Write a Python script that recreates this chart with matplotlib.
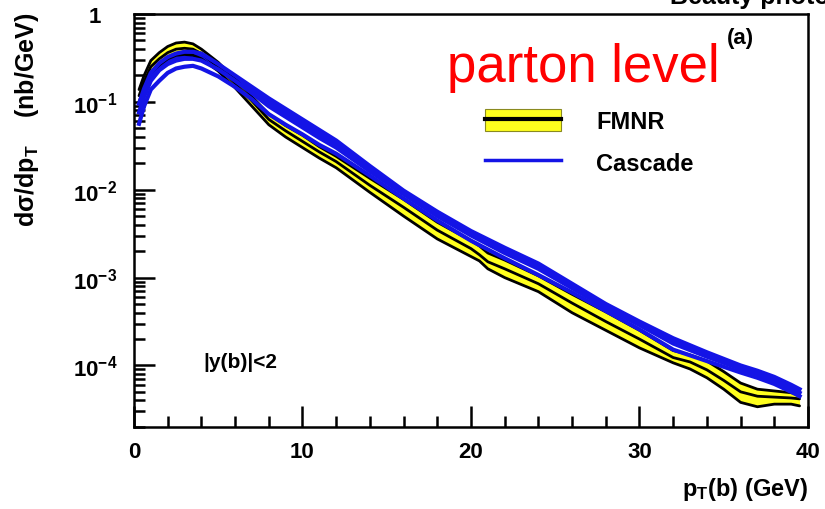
import numpy as np
import matplotlib
matplotlib.use('Agg')
import matplotlib.pyplot as plt
from matplotlib.ticker import MultipleLocator, LogLocator, FixedLocator, FixedFormatter, NullFormatter
from matplotlib.patches import Patch
from matplotlib.lines import Line2D
from matplotlib.legend_handler import HandlerTuple

plt.rcParams['font.family'] = ['Liberation Sans', 'DejaVu Sans']
plt.rcParams['mathtext.fontset'] = 'custom'
plt.rcParams['mathtext.rm'] = 'Liberation Sans:bold'
plt.rcParams['mathtext.it'] = 'Liberation Sans:bold'
plt.rcParams['mathtext.bf'] = 'Liberation Sans:bold'

# FMNR band, values are log10(dsigma/dpT) in nb/GeV
fmnrPt = [0.3, 0.6, 1, 1.5, 2, 2.5, 3, 3.5, 4, 5, 6, 7, 8, 9, 10, 11, 12, 14, 16, 18, 20,
          20.5, 21, 22, 24, 26, 28, 30, 32, 33, 34, 35, 36, 37, 38, 39, 39.5]
fmnrUp = [-0.86, -0.70, -0.53, -0.44, -0.37, -0.33, -0.32, -0.34, -0.40, -0.55, -0.74, -0.94,
          -1.14, -1.27, -1.38, -1.51, -1.62, -1.87, -2.11, -2.37, -2.58, -2.64, -2.72, -2.80,
          -2.98, -3.19, -3.39, -3.60, -3.83, -3.88, -3.95, -4.07, -4.20, -4.27, -4.29, -4.31, -4.33]
fmnrMid = [-0.93, -0.77, -0.60, -0.51, -0.44, -0.40, -0.39, -0.40, -0.45, -0.60, -0.79, -0.99,
           -1.20, -1.33, -1.45, -1.57, -1.68, -1.95, -2.20, -2.46, -2.67, -2.74, -2.82, -2.90,
           -3.07, -3.29, -3.50, -3.70, -3.91, -3.96, -4.05, -4.17, -4.30, -4.35, -4.36, -4.37, -4.38]
fmnrLo = [-1.00, -0.84, -0.67, -0.58, -0.51, -0.47, -0.46, -0.47, -0.51, -0.65, -0.84, -1.05,
          -1.26, -1.40, -1.52, -1.64, -1.75, -2.03, -2.30, -2.56, -2.76, -2.81, -2.90, -3.00,
          -3.16, -3.40, -3.60, -3.80, -3.97, -4.04, -4.14, -4.27, -4.42, -4.47, -4.44, -4.44, -4.46]

# Cascade variations
cascPt = [0.3, 0.6, 1, 1.5, 2, 2.5, 3, 3.5, 4, 5, 6, 7, 8, 9, 10, 11, 12, 14, 16, 18, 20,
          22, 24, 26, 28, 30, 32, 34, 36, 37, 38, 39, 39.5]
cascUp = [-1.02, -0.85, -0.67, -0.56, -0.49, -0.45, -0.43, -0.43, -0.45, -0.57, -0.70, -0.83,
          -0.96, -1.08, -1.20, -1.32, -1.44, -1.73, -2.01, -2.25, -2.47, -2.66, -2.84, -3.07,
          -3.30, -3.50, -3.69, -3.85, -4.00, -4.06, -4.13, -4.22, -4.27]
cascMid = [-1.12, -0.94, -0.76, -0.64, -0.57, -0.53, -0.51, -0.51, -0.53, -0.63, -0.76, -0.90,
           -1.05, -1.17, -1.29, -1.41, -1.52, -1.79, -2.05, -2.30, -2.52, -2.72, -2.90, -3.12,
           -3.34, -3.54, -3.75, -3.90, -4.04, -4.10, -4.17, -4.26, -4.31]
cascLo = [-1.25, -1.05, -0.86, -0.76, -0.67, -0.62, -0.60, -0.59, -0.62, -0.71, -0.83, -0.97,
          -1.14, -1.26, -1.37, -1.49, -1.59, -1.84, -2.10, -2.35, -2.58, -2.78, -2.97, -3.17,
          -3.38, -3.59, -3.82, -3.95, -4.08, -4.14, -4.21, -4.30, -4.35]

yDecades = [0, -1, -2, -3, -4]
yLabels = ['1', r'$10^{-1}$', r'$10^{-2}$', r'$10^{-3}$', r'$10^{-4}$']

blue = '#1414e6'
yellow = '#ffff1e'

fig = plt.figure(figsize=(8.25, 5.1), dpi=100)
ax = fig.add_axes([0.1624, 0.161, 0.8170, 0.8096])

p = lambda v: 10 ** np.array(v)

# FMNR: yellow band with black edges and central line
ax.fill_between(fmnrPt, p(fmnrLo), p(fmnrUp), color=yellow, lw=0)
for v in (fmnrUp, fmnrMid, fmnrLo):
    ax.plot(fmnrPt, p(v), color='black', lw=2.0, solid_capstyle='round')

# Cascade on top
ax.fill_between(cascPt, p(cascMid), p(cascUp), color=blue, lw=0)
for v in (cascUp, cascMid, cascLo):
    ax.plot(cascPt, p(v), color=blue, lw=3.0)

ax.set_yscale('log')
ax.set_xlim(0, 40)
ax.set_ylim(2e-5, 1)

ax.xaxis.set_major_locator(MultipleLocator(10))
ax.xaxis.set_minor_locator(MultipleLocator(2))
ax.yaxis.set_major_locator(FixedLocator([10.0 ** d for d in yDecades]))
ax.yaxis.set_major_formatter(FixedFormatter(yLabels))
ax.yaxis.set_minor_locator(LogLocator(base=10, subs=np.arange(2, 10), numticks=20))
ax.yaxis.set_minor_formatter(NullFormatter())

ax.tick_params(which='both', direction='in', top=False, right=False, width=1.8, color='black')
ax.tick_params(which='major', length=15)
ax.tick_params(which='minor', length=8)
ax.tick_params(axis='x', pad=10, labelsize=16)
ax.tick_params(axis='y', pad=28, labelsize=16)
for lab in ax.get_xticklabels():
    lab.set_fontweight('bold')
for lab in ax.get_yticklabels():
    lab.set_fontweight('bold')
    lab.set_horizontalalignment('center')
for s in ax.spines.values():
    s.set_linewidth(1.8)

# axis titles, placed at the ends like the original
fig.text(27 / 825, 1 - 13 / 510, 'dσ/dp$_{T}$    (nb/GeV)', rotation=90, ha='center', va='top',
         fontsize=18, fontweight='bold')
fig.text(808 / 825, 1 - 490 / 510, 'p$_{T}$(b) (GeV)', ha='right', va='center',
         fontsize=17, fontweight='bold')

fig.text(447 / 825, 1 - 82 / 510, 'parton level', ha='left', va='baseline', color='red', fontsize=38)
fig.text(727 / 825, 1 - 39 / 510, '(a)', ha='left', va='center', fontsize=16, fontweight='bold')
# title of the original panel, mostly cut off at the top edge
fig.text(670 / 825, 1 - 4 / 510, 'Beauty photoproduction', ha='left', va='baseline',
         fontsize=18, fontweight='bold')
fig.text(203 / 825, 1 - 363 / 510, '|y(b)|<2', ha='left', va='center', fontsize=15, fontweight='bold')

fmnrHandle = (Patch(facecolor=yellow, edgecolor='#8a8a20', lw=0.8), Line2D([], [], color='black', lw=3))
cascHandle = Line2D([], [], color=blue, lw=2.5)
leg = ax.legend([fmnrHandle, cascHandle], ['FMNR', 'Cascade'],
                handler_map={tuple: HandlerTuple(ndivide=1, pad=0)},
                loc='upper left', bbox_to_anchor=(485 / 825, 1 - 110 / 510),
                bbox_transform=fig.transFigure, frameon=False, borderpad=0, borderaxespad=0,
                handlelength=3.2, handleheight=1.05, handletextpad=1.5, labelspacing=0.75,
                prop={'size': 17, 'weight': 'bold'})

fig.savefig('out.png', dpi=100)
